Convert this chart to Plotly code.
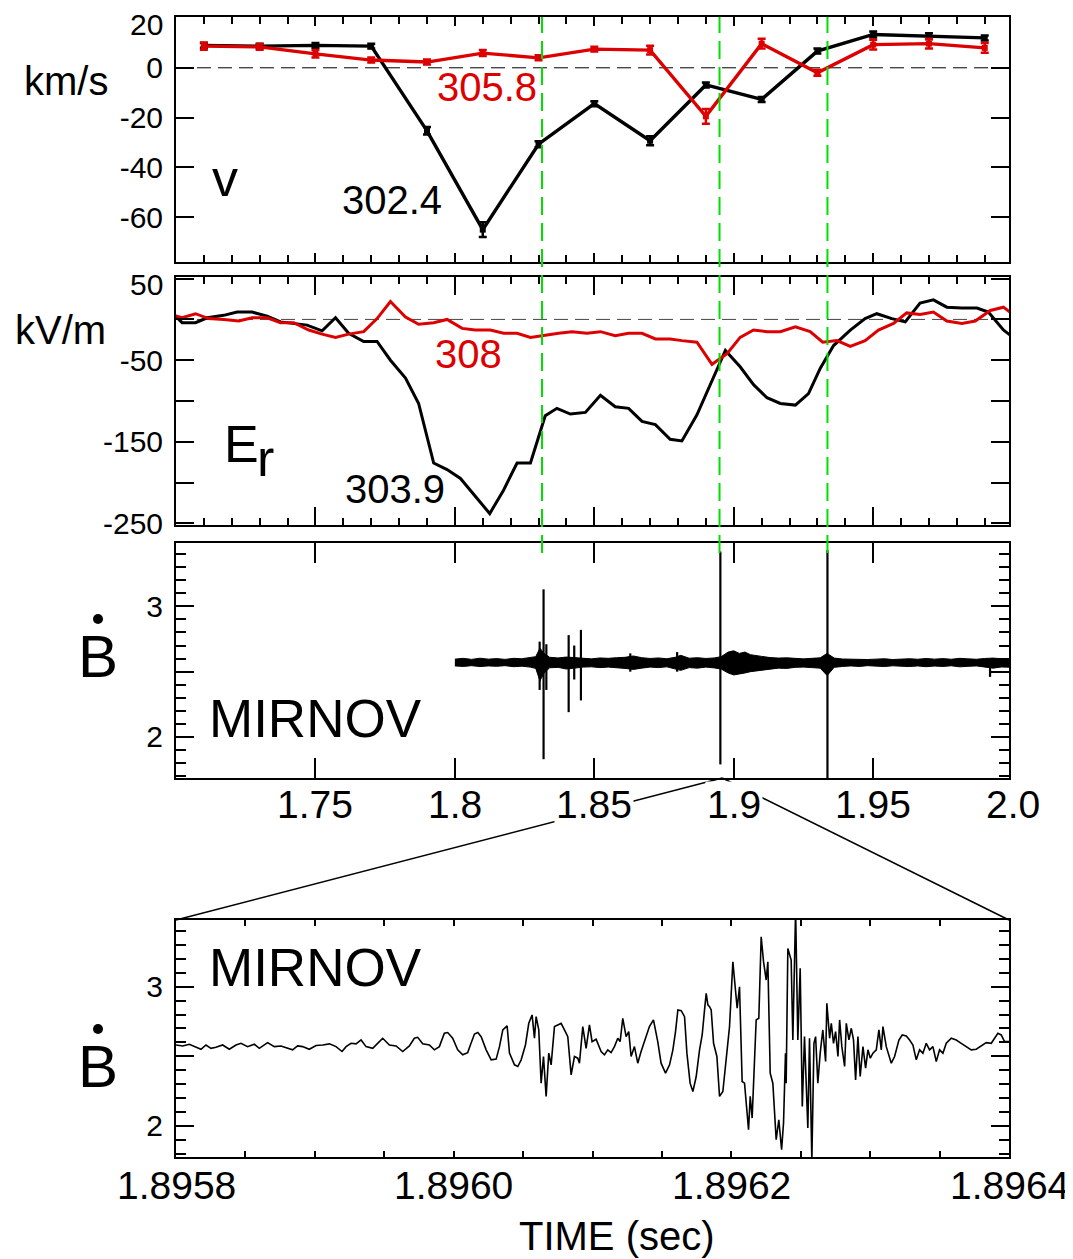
import plotly.graph_objects as go

FONT = "Liberation Sans, Arial, sans-serif"
RED = "#dd0000"
GREEN = "#00e000"

# ---------------- Panel 1: velocity (km/s) ----------------
v_t = [1.71, 1.73, 1.75, 1.77, 1.79, 1.81, 1.83, 1.85, 1.87, 1.89, 1.91, 1.93, 1.95, 1.97, 1.99]
v_302 = [9, 8.7, 9, 8.7, -25.3, -65, -30.7, -14.4, -29.3, -6.9, -12.7, 6.7, 13.4, 12.7, 12]
v_302_err = [1, 1, 1, 1, 1.5, 3, 1.2, 1, 1.8, 1, 1, 1, 1.2, 1.2, 1]
v_305 = [8.7, 8.4, 5.6, 3.1, 2.3, 5.9, 4, 7.5, 7.1, -19.5, 9.7, -2, 9.3, 9.7, 8]
v_305_err = [1.5, 1.2, 1.5, 1, 1, 1.2, 1, 1, 1.8, 3, 2, 1.2, 2, 2, 2]

# ---------------- Panel 2: Er (kV/m) ----------------
er_black_t = [1.6995, 1.7022, 1.707, 1.7112, 1.7171, 1.7219, 1.7273, 1.7327, 1.7375, 1.7422,
              1.747, 1.7524, 1.7572, 1.7619, 1.7673, 1.7721, 1.7769, 1.7823, 1.787, 1.7924,
              1.7972, 1.802, 1.8073, 1.8125, 1.8175, 1.8223, 1.8271, 1.8324, 1.8366, 1.8414,
              1.8468, 1.8522, 1.8575, 1.8623, 1.8671, 1.8719, 1.8772, 1.8814, 1.8868, 1.8916,
              1.8952, 1.897, 1.9023, 1.9071, 1.9119, 1.9167, 1.9221, 1.9268, 1.931, 1.9358,
              1.9418, 1.9471, 1.9513, 1.9567, 1.9615, 1.9668, 1.9716, 1.9764, 1.9818, 1.9872,
              1.9913, 1.9967, 1.999]
er_black_v = [5, -4, -4, 2, 5, 9, 9, 4, -3, -5,
              -7, -14, 2, -17, -27, -27, -50, -72, -103, -176,
              -184, -195, -217, -238, -209, -176, -176, -118, -109, -116,
              -114, -93, -107, -109, -125, -129, -147, -149, -117, -80,
              -50, -38, -58, -80, -96, -103, -105, -91, -60, -32,
              -13, 1, 7, 1, -3, 20, 24, 15, 14, 14,
              9, -13, -19]
er_red_t = [1.6992, 1.7022, 1.707, 1.7117, 1.7171, 1.7225, 1.7273, 1.7327, 1.7375, 1.7422,
            1.7476, 1.7524, 1.7572, 1.7619, 1.7673, 1.7721, 1.7769, 1.7823, 1.787, 1.7924,
            1.7972, 1.8026, 1.8073, 1.8127, 1.8175, 1.8223, 1.8271, 1.8324, 1.8372, 1.842,
            1.8474, 1.8522, 1.8575, 1.8623, 1.8671, 1.8719, 1.8772, 1.8814, 1.8868, 1.8922,
            1.8976, 1.9023, 1.9071, 1.9119, 1.9167, 1.9221, 1.9274, 1.9319, 1.937, 1.9418,
            1.9471, 1.9519, 1.9573, 1.962, 1.9668, 1.9716, 1.9764, 1.9818, 1.9866, 1.992,
            1.9967, 1.999]
er_red_v = [5, 2, 7, 1, 0, -2, 2, 2, -4, -4,
            -13, -18, -22, -18, -15, 1, 22, 3, -6, -4,
            0, -11, -13, -13, -17, -17, -22, -19, -17, -15,
            -17, -15, -20, -17, -17, -24, -24, -26, -28, -55,
            -42, -22, -13, -15, -15, -9, -15, -28, -26, -33,
            -26, -13, -5, 8, 6, 9, -2, -5, -2, 11,
            15, 9]

# ---------------- Panel 3: Mirnov (full) ----------------
mir_env_t = [1.800, 1.803, 1.806, 1.809, 1.812, 1.815, 1.818, 1.821, 1.824, 1.827,
             1.829, 1.8305, 1.832, 1.834, 1.837, 1.840, 1.843, 1.846, 1.849, 1.852,
             1.855, 1.858, 1.861, 1.864, 1.867, 1.870, 1.873, 1.876, 1.879, 1.881,
             1.884, 1.887, 1.890, 1.893, 1.8955, 1.898, 1.900, 1.902, 1.904, 1.906,
             1.908, 1.910, 1.913, 1.916, 1.919, 1.922, 1.925, 1.928, 1.931, 1.9335,
             1.936, 1.939, 1.942, 1.945, 1.948, 1.951, 1.954, 1.957, 1.960, 1.963,
             1.966, 1.969, 1.972, 1.975, 1.978, 1.981, 1.984, 1.987, 1.990, 1.993,
             1.996, 1.999]
mir_env_hi = [2.596, 2.602, 2.594, 2.603, 2.596, 2.600, 2.594, 2.602, 2.599, 2.606,
              2.615, 2.680, 2.640, 2.610, 2.605, 2.612, 2.606, 2.601, 2.598, 2.605,
              2.602, 2.607, 2.610, 2.620, 2.607, 2.601, 2.605, 2.599, 2.610, 2.625,
              2.603, 2.607, 2.601, 2.605, 2.615, 2.650, 2.660, 2.640, 2.650, 2.630,
              2.622, 2.617, 2.608, 2.604, 2.606, 2.600, 2.598, 2.602, 2.606, 2.640,
              2.604, 2.597, 2.595, 2.598, 2.593, 2.596, 2.599, 2.593, 2.595, 2.599,
              2.595, 2.601, 2.596, 2.600, 2.595, 2.602, 2.598, 2.595, 2.601, 2.604,
              2.599, 2.601]
mir_env_lo = [2.544, 2.540, 2.546, 2.539, 2.544, 2.541, 2.546, 2.538, 2.542, 2.535,
              2.525, 2.430, 2.490, 2.530, 2.533, 2.520, 2.527, 2.535, 2.537, 2.531,
              2.535, 2.529, 2.525, 2.517, 2.527, 2.535, 2.531, 2.537, 2.523, 2.510,
              2.531, 2.527, 2.535, 2.529, 2.520, 2.490, 2.475, 2.480, 2.490, 2.500,
              2.508, 2.512, 2.520, 2.527, 2.525, 2.533, 2.535, 2.531, 2.527, 2.470,
              2.533, 2.540, 2.544, 2.540, 2.546, 2.542, 2.539, 2.545, 2.542, 2.539,
              2.544, 2.538, 2.543, 2.540, 2.545, 2.537, 2.541, 2.544, 2.535, 2.527,
              2.536, 2.534]
mir_spike_t = [1.8304, 1.8318, 1.8328, 1.8408, 1.8428, 1.8452, 1.8629, 1.8797, 1.8952, 1.9336, 1.9919]
mir_spike_hi = [2.73, 3.13, 2.71, 2.78, 2.70, 2.82, 2.64, 2.65, 3.42, 3.43, 2.58]
mir_spike_lo = [2.36, 1.83, 2.36, 2.19, 2.44, 2.28, 2.50, 2.50, 1.79, 1.68, 2.46]

# ---------------- Panel 4: Mirnov (zoom) ----------------
# time after 1.8958 s, in microseconds
zoom_t0 = 1.8958
zoom_t_us = [0, 4.8, 9.6, 14.4, 18.0, 21.6, 25.2, 28.8, 33.6, 38.4, 43.2, 46.8, 51.6, 56.4, 60.0,
             66.0, 70.8, 75.6, 80.4, 84.0, 87.6, 91.2, 96.0, 100.9, 105.7, 110.5, 115.3, 119.6,
             122.5, 126.1, 129.7, 133.3, 136.9, 141.7, 146.5, 148.9, 153.7, 158.5, 163.3, 168.1,
             171.7, 174.1, 177.7, 182.5, 186.1, 189.7, 193.3, 195.7, 199.3, 202.9, 206.5, 210.1,
             212.5, 215.0, 217.4, 219.8, 223.4, 227.0, 230.6, 233.0, 235.4, 238.5, 240.2, 243.8,
             246.2, 248.6, 251.7, 254.1, 256.5, 258.2, 259.4, 261.3, 263.0, 264.7, 266.6, 268.5,
             270.2, 272.6, 275.0, 277.4, 279.8, 282.2, 284.6, 287.0, 289.4,
             290.6, 293.0, 295.4, 297.8, 299.7, 302.6, 306.2, 308.6, 311.0, 313.4, 315.8, 318.2,
             319.9, 321.8, 324.2, 326.1, 327.8, 330.2, 332.6, 335.0, 337.4, 341.0, 343.9, 347.0,
             349.4, 352.6, 355.5, 357.9, 359.8, 361.5, 363.9, 366.3, 368.0, 370.3, 372.3, 374.7,
             377.1, 379.0, 380.7, 381.9, 383.1, 384.3, 385.5, 387.2, 389.6, 391.5, 393.9, 396.3,
             398.7, 401.1, 403.0, 404.2, 405.9, 407.8, 409.5, 411.2, 412.4, 413.6, 415.0, 417.9,
             419.8, 421.5, 423.2, 425.1, 426.3, 428.0, 429.9, 432.3, 434.2, 436.2, 437.6, 439.0,
             439.5, 440.7, 443.1, 444.3, 446.3, 447.9, 449.6, 451.1, 452.7, 455.1, 456.3, 458.0,
             459.5, 460.7, 462.3, 464.0, 465.9, 467.9, 468.8, 470.8, 472.0, 473.6, 475.1, 476.8,
             478.0, 479.6, 481.6, 482.8, 484.7, 486.4, 488.0, 489.5, 491.2, 492.8, 494.8, 496.7,
             498.4, 500.1, 502.0, 504.4, 506.3, 508.0, 509.2, 511.6, 515.2, 517.6, 520.7, 523.1,
             526.0, 528.4, 530.8, 533.2, 535.6, 538.0, 540.4, 542.8, 545.2, 547.6, 550.0, 552.4,
             554.8, 558.4, 562.0, 565.6, 569.2, 572.8, 576.4, 580.0, 583.6, 587.2, 589.6, 592.0,
             594.4, 596.8, 600.0]
zoom_v = [2.581, 2.574, 2.586, 2.565, 2.550, 2.581, 2.557, 2.565, 2.581, 2.550, 2.581, 2.593, 2.569, 2.586, 2.557,
          2.598, 2.569, 2.574, 2.557, 2.546, 2.574, 2.569, 2.550, 2.577, 2.581, 2.589, 2.569, 2.534,
          2.569, 2.593, 2.589, 2.617, 2.569, 2.557, 2.605, 2.629, 2.581, 2.574, 2.534, 2.574,
          2.629, 2.636, 2.589, 2.581, 2.546, 2.569, 2.665, 2.670, 2.629, 2.546, 2.510, 2.526,
          2.593, 2.660, 2.670, 2.641, 2.546, 2.474, 2.479, 2.569, 2.689, 2.718, 2.522, 2.438,
          2.426, 2.474, 2.581, 2.737, 2.797, 2.629, 2.785, 2.689, 2.306, 2.498, 2.211, 2.522,
          2.438, 2.713, 2.725, 2.737, 2.689, 2.641, 2.366, 2.498, 2.486,
          2.450, 2.713, 2.557, 2.725, 2.605, 2.622, 2.534, 2.510, 2.546, 2.526, 2.569, 2.629,
          2.605, 2.773, 2.641, 2.677, 2.498, 2.569, 2.450, 2.534, 2.605, 2.713, 2.761, 2.605,
          2.450, 2.378, 2.438, 2.546, 2.677, 2.833, 2.828, 2.785, 2.522, 2.306, 2.246, 2.354,
          2.546, 2.653, 2.833, 2.952, 2.869, 2.857, 2.833, 2.593, 2.498, 2.211, 2.246, 2.498,
          2.713, 3.180, 2.964, 2.845, 3.000, 2.318, 2.306, 2.115, 1.971, 2.211, 2.055, 2.761,
          2.773, 3.359, 3.180, 3.048, 3.180, 2.378, 2.306, 1.899, 2.043, 1.828, 2.019, 2.522,
          2.306, 3.275, 3.192, 2.617, 3.550, 2.617, 3.132, 2.139, 2.641, 1.983, 2.629, 1.750,
          2.593, 2.641, 2.306, 2.522, 2.689, 2.462, 2.881, 2.629, 2.737, 2.593, 2.677, 2.498,
          2.761, 2.569, 2.426, 2.737, 2.617, 2.701, 2.617, 2.330, 2.641, 2.354, 2.569, 2.414,
          2.546, 2.486, 2.522, 2.546, 2.689, 2.546, 2.713, 2.569, 2.450, 2.498, 2.617, 2.653,
          2.646, 2.617, 2.581, 2.474, 2.546, 2.522, 2.593, 2.546, 2.569, 2.462, 2.546, 2.522,
          2.593, 2.629, 2.617, 2.593, 2.569, 2.546, 2.550, 2.574, 2.598, 2.593, 2.629, 2.665,
          2.653, 2.605, 2.605]
zoom_t = [zoom_t0 + u * 1e-6 for u in zoom_t_us]

green_t = [1.83125, 1.8949, 1.9336]
x3_labels = [1.75, 1.8, 1.85, 1.9, 1.95, 2.0]
x3_text = ["1.75", "1.8", "1.85", "1.9", "1.95", "2.0"]
x4_ticks = [1.8958, 1.8960, 1.8962, 1.8964]
x4_text = ["1.8958", "1.8960", "1.8962", "1.8964"]

XR = [1.7, 1.9987]
ZR = [1.8958, 1.8964]

# ---------- geometry (layout only) ----------
# the page body has an 8px margin, so the figure is 8px smaller and its
# pixel helpers work in page coordinates of the 1073x1259 window
OFF = 8
W, H = 1073 - OFF, 1259 - OFF
L, T, B = 176 - OFF, 17 - OFF, 102
R = W - (1009 - OFF)
PW, PH = W - L - R, H - T - B


def px(xp):
    return (xp - OFF - L) / PW


def py(yp):
    return (H - B - (yp - OFF)) / PH


fig = go.Figure()

# Panel 1
fig.add_trace(go.Scatter(x=v_t, y=v_302, mode="lines+markers",
                         line=dict(color="black", width=3.4),
                         marker=dict(symbol="square", size=6, color="black"),
                         error_y=dict(type="data", array=v_302_err, color="black", thickness=2.5, width=4),
                         xaxis="x", yaxis="y", showlegend=False))
fig.add_trace(go.Scatter(x=v_t, y=v_305, mode="lines+markers",
                         line=dict(color=RED, width=3.4),
                         marker=dict(symbol="square", size=6, color=RED),
                         error_y=dict(type="data", array=v_305_err, color=RED, thickness=2.5, width=4),
                         xaxis="x", yaxis="y", showlegend=False))
# Panel 2
fig.add_trace(go.Scatter(x=er_black_t, y=er_black_v, mode="lines",
                         line=dict(color="black", width=3), xaxis="x2", yaxis="y2", showlegend=False))
fig.add_trace(go.Scatter(x=er_red_t, y=er_red_v, mode="lines",
                         line=dict(color=RED, width=3), xaxis="x2", yaxis="y2", showlegend=False))
# Panel 3
fig.add_trace(go.Scatter(x=mir_env_t + mir_env_t[::-1], y=mir_env_hi + mir_env_lo[::-1],
                         mode="lines", fill="toself", fillcolor="black",
                         line=dict(color="black", width=1), xaxis="x3", yaxis="y3", showlegend=False))
sx, sy = [], []
for t, hi, lo in zip(mir_spike_t, mir_spike_hi, mir_spike_lo):
    sx += [t, t, None]
    sy += [hi, lo, None]
fig.add_trace(go.Scatter(x=sx, y=sy, mode="lines", line=dict(color="black", width=2.2),
                         xaxis="x3", yaxis="y3", showlegend=False))
# Panel 4
fig.add_trace(go.Scatter(x=zoom_t, y=zoom_v, mode="lines", line=dict(color="black", width=1.6),
                         xaxis="x4", yaxis="y4", showlegend=False))

common = dict(showline=True, linecolor="black", linewidth=2, mirror="ticks", ticks="inside",
              tickcolor="black", tickwidth=1.5, showgrid=False, zeroline=False, automargin=False,
              tickfont=dict(family=FONT, size=30, color="black"))

d1 = [py(262), 1.0]
d2 = [py(525), py(277)]
d3 = [py(778), py(543)]
d4 = [0.0, py(920)]

fig.update_layout(
    width=W, height=H, margin=dict(l=L, r=R, t=T, b=B, autoexpand=False),
    plot_bgcolor="white", paper_bgcolor="white",
    font=dict(family=FONT, color="black"),
    xaxis=dict(common, domain=[0, 1], anchor="y", range=XR, tick0=1.75, dtick=0.05, ticklen=9,
               showticklabels=False,
               minor=dict(dtick=0.01, tick0=1.7, ticklen=7, ticks="inside", tickcolor="black", tickwidth=1.5)),
    yaxis=dict(common, domain=d1, anchor="x", range=[-78, 20.4], tickmode="array",
               tickvals=[-60, -40, -20, 0, 20], ticktext=["-60", "-40", "-20", "0", ""],
               ticklen=18, ticklabelstandoff=5),
    xaxis2=dict(common, domain=[0, 1], anchor="y2", range=XR, tick0=1.75, dtick=0.05, ticklen=18,
                showticklabels=False,
                minor=dict(dtick=0.01, tick0=1.7, ticklen=7, ticks="inside", tickcolor="black", tickwidth=1.5)),
    yaxis2=dict(common, domain=d2, anchor="x2", range=[-252, 52], tickmode="array",
                tickvals=[-250, -200, -150, -100, -50, 0, 50],
                ticktext=["-250", "", "-150", "", "-50", "", ""], ticklen=18, ticklabelstandoff=5),
    xaxis3=dict(common, domain=[0, 1], anchor="y3", range=XR, tick0=1.75, dtick=0.05, ticklen=20,
                showticklabels=False),
    yaxis3=dict(common, domain=d3, anchor="x3", range=[1.686, 3.485], tickmode="array",
                tickvals=[2, 2.5, 3], ticktext=["2", "", "3"], ticklen=18, ticklabelstandoff=5,
                minor=dict(dtick=0.1, tick0=2, ticklen=10, ticks="inside", tickcolor="black", tickwidth=1.5)),
    xaxis4=dict(common, domain=[0, 1], anchor="y4", range=ZR, tickmode="array",
                tickvals=x4_ticks, ticklen=6, showticklabels=False,
                minor=dict(dtick=0.00005, tick0=1.8958, ticklen=6, ticks="inside", tickcolor="black", tickwidth=1.5)),
    yaxis4=dict(common, domain=d4, anchor="x4", range=[1.775, 3.48], tickmode="array",
                tickvals=[2, 2.5, 3], ticktext=["2", "", "3"], ticklen=18, ticklabelstandoff=5,
                minor=dict(dtick=0.1, tick0=2, ticklen=10, ticks="inside", tickcolor="black", tickwidth=1.5)),
)

shapes = []
# zero lines
shapes.append(dict(type="line", xref="x domain", yref="y", x0=0, x1=1, y0=0, y1=0, layer="below",
                   line=dict(color="black", width=1, dash="14px,7px")))
shapes.append(dict(type="line", xref="x2 domain", yref="y2", x0=0, x1=1, y0=0, y1=0, layer="below",
                   line=dict(color="#444444", width=1, dash="14px,7px")))
# green markers of events
for g in green_t:
    shapes.append(dict(type="line", xref="x", yref="paper", x0=g, x1=g, y0=py(553), y1=1.0,
                       layer="above", line=dict(color=GREEN, width=2, dash="18px,8px")))
# zoom connector lines
apex_x = (ZR[0] + 0.0001 - XR[0]) / (XR[1] - XR[0])
shapes.append(dict(type="line", xref="paper", yref="paper", x0=apex_x, y0=d3[0], x1=0, y1=d4[1],
                   line=dict(color="black", width=1.5)))
shapes.append(dict(type="line", xref="paper", yref="paper", x0=apex_x, y0=d3[0], x1=1, y1=d4[1],
                   line=dict(color="black", width=1.5)))
# dots of B-dot
for yd in [619, 1029]:
    shapes.append(dict(type="circle", xref="paper", yref="paper", xsizemode="pixel", ysizemode="pixel",
                       xanchor=px(98), yanchor=py(yd), x0=-5, x1=5, y0=-5, y1=5,
                       fillcolor="black", line=dict(width=0)))
fig.update_layout(shapes=shapes)

ann = []


def add_text(text, xp, yp, size, color="black", xanchor="center"):
    ann.append(dict(text=text, xref="paper", yref="paper", x=px(xp), y=py(yp), xanchor=xanchor,
                    yanchor="middle", showarrow=False, font=dict(family=FONT, size=size, color=color)))


add_text("km/s", 66, 81, 40)
add_text("kV/m", 60, 330, 40)
add_text("v", 225, 178, 52)
add_text("302.4", 392, 200, 40)
add_text("305.8", 487, 87, 40, RED)
add_text("E", 241, 444, 52)
add_text("r", 265, 458, 52)
add_text("303.9", 395, 489, 40)
add_text("308", 468, 354, 40, RED)
add_text("MIRNOV", 315, 718, 53)
add_text("MIRNOV", 315, 967, 53)
add_text("B", 98, 656, 60)
add_text("B", 98, 1066, 60)
add_text("TIME (sec)", 617, 1236, 40)
# top-edge axis labels, nudged inside the frame like the original
add_text("20", 165, 24, 30, xanchor="right")
add_text("50", 165, 285, 30, xanchor="right")

# tick labels of the Mirnov panel (white boxes hide the zoom lines behind them)
for xv, tx in zip(x3_labels, x3_text):
    ann.append(dict(text=tx, xref="paper", yref="paper", x=(xv - XR[0]) / (XR[1] - XR[0]), y=py(805),
                    xanchor="center", yanchor="middle", showarrow=False, bgcolor="white", borderpad=1,
                    font=dict(family=FONT, size=39, color="black")))
# tick labels of the zoomed panel
for xv, tx in zip(x4_ticks, x4_text):
    ann.append(dict(text=tx, xref="paper", yref="paper", x=(xv - ZR[0]) / (ZR[1] - ZR[0]), y=py(1185),
                    xanchor="center", yanchor="middle", showarrow=False,
                    font=dict(family=FONT, size=39, color="black")))

fig.update_layout(annotations=ann)
fig.write_html("out.html")
